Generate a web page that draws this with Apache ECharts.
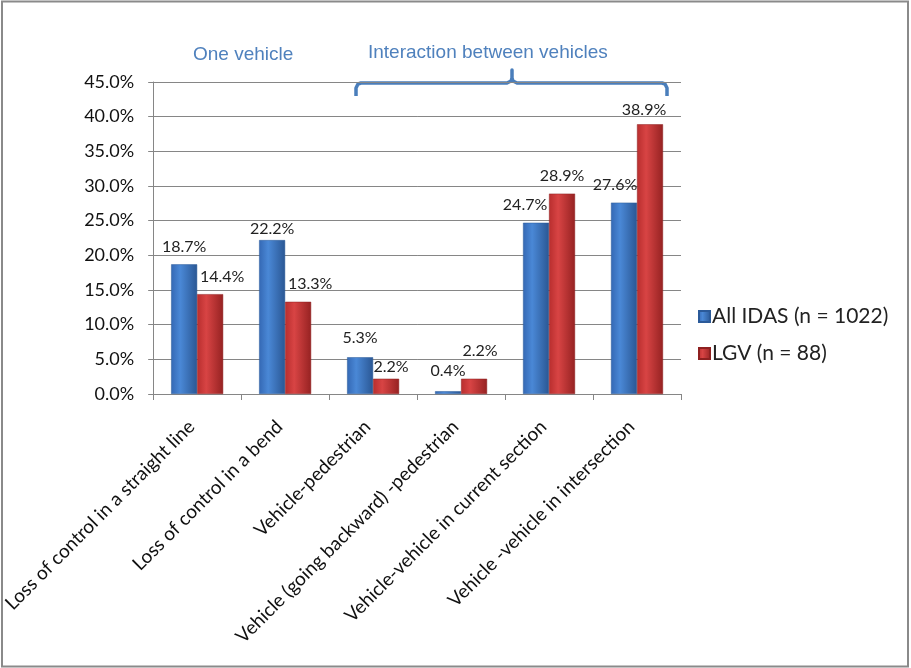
<!DOCTYPE html>
<html>
<head>
<meta charset="utf-8">
<script src="https://cdn.jsdelivr.net/npm/echarts@6/dist/echarts.min.js"></script>
<style>
  html, body { margin: 0; padding: 0; background: #fff; }
  #chart { width: 911px; height: 668px; }
</style>
</head>
<body>
<div id="chart"></div>
<script>
// Accident types and shares (%)
const categories = [
  'Loss of control in a straight line',
  'Loss of control in a bend',
  'Vehicle-pedestrian',
  'Vehicle (going backward) -pedestrian',
  'Vehicle-vehicle in current section',
  'Vehicle -vehicle in intersection'
];
const allIdas = [18.7, 22.2, 5.3, 0.4, 24.7, 27.6];
const lgv = [14.4, 13.3, 2.2, 2.2, 28.9, 38.9];
const seriesNames = ['All IDAS (n = 1022)', 'LGV (n = 88)'];
const yTicks = { min: 0, max: 45, interval: 5 };

// Hand placement of the value labels: [horizontal nudge, gap above bar top]
const allIdasLabelNudge = [[0, 18], [0, 11], [0, 19], [0, 20], [-11, 18], [-9, 18]];
const lgvLabelNudge = [[12, 17], [12, 18], [5, 12], [6, 28], [0, 18], [-6, 14]];

const FONT = 'Lato, "Open Sans", sans-serif';

function barGradient(c0, c1, c2) {
  return {
    type: 'linear', x: 0, y: 0, x2: 1, y2: 0,
    colorStops: [
      { offset: 0, color: c0 },
      { offset: 0.35, color: c1 },
      { offset: 1, color: c2 }
    ]
  };
}

function buildData(values, nudges) {
  return values.map((v, i) => ({
    value: v,
    label: { offset: [nudges[i][0], -(nudges[i][1] - 8)] }
  }));
}

const blueFill = barGradient('#3468b4', '#4a88d6', '#2a5794');
const redFill = barGradient('#b82e2e', '#d84444', '#962222');

const chart = echarts.init(document.getElementById('chart'), null, { renderer: 'canvas' });

const labelStyle = {
  show: true,
  position: 'top',
  distance: 0,
  color: '#222',
  fontFamily: FONT,
  fontSize: 16,
  formatter: p => p.value.toFixed(1) + '%'
};

chart.setOption({
  backgroundColor: '#fff',
  animation: false,
  grid: { left: 150, right: 230, top: 82, bottom: 274, containLabel: false },
  legend: {
    orient: 'vertical',
    left: 693,
    top: 301,
    itemWidth: 11,
    itemHeight: 11,
    itemGap: 16,
    icon: 'rect',
    textStyle: { color: '#222', fontFamily: FONT, fontSize: 21, padding: [0, 0, 0, -3] },
    data: seriesNames
  },
  xAxis: {
    type: 'category',
    data: categories,
    axisLine: { lineStyle: { color: '#868686', width: 1 } },
    axisTick: { show: true, alignWithLabel: false, length: 6, lineStyle: { color: '#868686' } },
    axisLabel: {
      rotate: 45,
      interval: 0,
      margin: 24,
      padding: [0, 8, 0, 0],
      color: '#111',
      fontFamily: FONT,
      fontSize: 19
    }
  },
  yAxis: {
    type: 'value',
    min: yTicks.min,
    max: yTicks.max,
    interval: yTicks.interval,
    axisLine: { show: true, lineStyle: { color: '#868686', width: 1 } },
    axisTick: { show: true, length: 5, lineStyle: { color: '#868686' } },
    splitLine: { lineStyle: { color: '#868686', width: 1 } },
    axisLabel: {
      margin: 19,
      color: '#111',
      fontFamily: FONT,
      fontSize: 18,
      formatter: v => v.toFixed(1) + '%'
    }
  },
  series: [
    {
      name: seriesNames[0],
      type: 'bar',
      data: buildData(allIdas, allIdasLabelNudge),
      barWidth: 26,
      barGap: '0%',
      itemStyle: { color: blueFill, borderColor: '#2b5a99', borderWidth: 0.5 },
      label: labelStyle
    },
    {
      name: seriesNames[1],
      type: 'bar',
      data: buildData(lgv, lgvLabelNudge),
      barWidth: 26,
      barGap: '0%',
      itemStyle: { color: redFill, borderColor: '#8e2020', borderWidth: 0.5 },
      label: labelStyle
    }
  ],
  graphic: [
    // outer frame
    {
      type: 'rect',
      shape: { x: 2, y: 1.5, width: 906, height: 665 },
      style: { fill: null, stroke: '#8a8a8a', lineWidth: 2 },
      silent: true
    },
    {
      type: 'text',
      x: 193,
      y: 45,
      style: { text: 'One vehicle', fill: '#4f81bd', font: '19px "Liberation Sans", Arial, sans-serif' }
    },
    {
      type: 'text',
      x: 368,
      y: 43,
      style: { text: 'Interaction between vehicles', fill: '#4f81bd', font: '19px "Liberation Sans", Arial, sans-serif' }
    },
    // curly bracket grouping the vehicle-vehicle categories
    {
      type: 'polyline',
      silent: true,
      shape: {
        points: [[356, 96], [356, 88], [358, 84], [361, 83], [507, 83], [511, 81], [512, 78], [512, 70],
                 [512, 78], [513, 81], [517, 83], [662, 83], [665, 84], [667, 88], [667, 96]]
      },
      style: { fill: null, stroke: '#4a7ebb', lineWidth: 3.5, lineJoin: 'round' }
    }
  ]
});
</script>
</body>
</html>
